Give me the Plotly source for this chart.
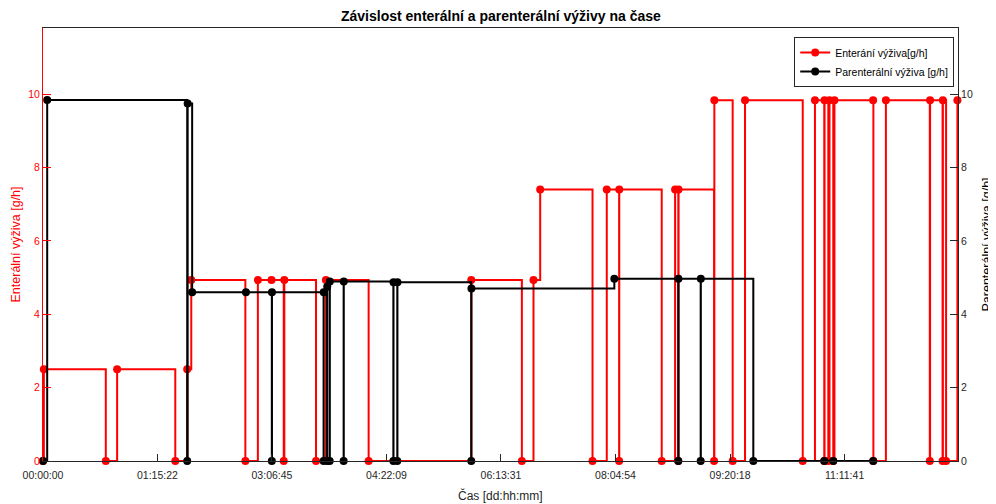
import plotly.graph_objects as go

# ---- data (time in hours from start, values in g/h) ----
ent_time = [0, 0.3, 21.6, 25.5, 45.5, 49.6, 51.0, 69.6, 73.9, 78.6, 82.8, 83.0,
            93.9, 97.3, 112.0, 147.3, 164.7, 168.7, 171.0, 189.0, 193.9, 198.15,
            198.2, 212.8, 217.4, 218.5, 218.6, 230.8, 230.9, 237.2, 241.45, 261.3,
            265.5, 268.7, 268.8, 270.1, 270.5, 271.8, 272.2, 285.5, 285.6, 289.9,
            305.0, 305.1, 309.4, 309.5, 310.6, 314.5]
ent_value = [0, 2.5, 0, 2.5, 0, 2.5, 4.93, 0, 4.93, 4.93, 0, 4.93,
             0, 4.93, 0, 4.93, 0, 4.93, 7.4, 0, 7.4, 0,
             7.4, 0, 7.4, 0, 7.4, 0, 9.83, 0, 9.83, 0,
             9.83, 0, 9.83, 0, 9.83, 0, 9.83, 9.83, 0, 9.83,
             0, 9.83, 0, 9.83, 0, 9.83]

par_time = [0, 1.44, 49.6, 49.75, 51.3, 69.8, 78.7, 78.75, 96.5, 96.55, 97.7, 97.75,
            98.6, 98.65, 103.4, 103.45, 120.5, 120.55, 121.85, 121.9, 147.3, 147.35,
            196.5, 218.5, 218.55, 226.2, 226.25, 244.3, 268.7, 271.8, 285.5]
par_value = [0, 9.84, 0, 9.74, 4.6, 4.6, 0, 4.6, 0, 4.6, 0, 4.75,
             0, 4.89, 0, 4.89, 0, 4.87, 0, 4.87, 0, 4.7,
             4.97, 0, 4.97, 0, 4.97, 0, 0, 0, 0]

tick_vals = [0, 39.367, 78.75, 118.15, 157.517, 196.9, 236.3, 275.683]
tick_text = ["00:00:00", "01:15:22", "03:06:45", "04:22:09", "06:13:31",
             "08:04:54", "09:20:18", "11:11:41"]
y_ticks = [0, 2, 4, 6, 8, 10]

RED = "#ff0000"
BLK = "#000000"
AX = "#262626"
FONT = "Liberation Sans, Arial, Helvetica, sans-serif"

fig = go.Figure()
fig.add_trace(go.Scatter(
    x=ent_time, y=ent_value, name="Enterání výživa[g/h]",
    mode="lines+markers", line=dict(color=RED, width=2, shape="hv"),
    marker=dict(color=RED, size=8), cliponaxis=False, yaxis="y"))
fig.add_trace(go.Scatter(
    x=par_time, y=par_value, name="Parenterální výživa [g/h]",
    mode="lines+markers", line=dict(color=BLK, width=2, shape="hv"),
    marker=dict(color=BLK, size=8), cliponaxis=False, yaxis="y2"))

fig.update_layout(
    width=988, height=496,
    margin=dict(l=35, r=38, t=20, b=43),
    paper_bgcolor="white", plot_bgcolor="white",
    font=dict(family=FONT, size=11, color=AX),
    showlegend=True,
    legend=dict(x=0.821, y=0.979, xanchor="left", yanchor="top",
                bgcolor="white", bordercolor=AX, borderwidth=1,
                font=dict(size=10.5, color=BLK), tracegroupgap=0,
                itemwidth=30),
    xaxis=dict(range=[0, 314.7], tickvals=tick_vals, ticktext=tick_text,
               showgrid=False, zeroline=False, showline=True, linecolor=AX,
               linewidth=1, mirror=True, ticks="inside", ticklen=7,
               tickcolor=AX, tickfont=dict(size=10.5, color=AX),
               ticklabelstandoff=4),
    yaxis=dict(range=[0, 11.8], tickvals=y_ticks, showgrid=False, zeroline=False,
               showline=True, linecolor=RED, linewidth=1, ticks="inside",
               ticklen=8, tickcolor=RED, tickfont=dict(size=10.5, color=RED)),
    yaxis2=dict(range=[0, 11.8], tickvals=y_ticks, overlaying="y", side="right",
                showgrid=False, zeroline=False, showline=True, linecolor=AX,
                linewidth=1, ticks="inside", ticklen=8, tickcolor=AX,
                tickfont=dict(size=10.5, color=AX)),
    annotations=[
        dict(text="<b>Závislost enterální a parenterální výživy na čase</b>",
             xref="paper", yref="paper", x=0.5, y=1, yshift=2,
             xanchor="center", yanchor="bottom", showarrow=False,
             font=dict(size=14, color=BLK)),
        dict(text="Čas [dd:hh:mm]", xref="paper", yref="paper", x=0.5, y=0,
             yshift=-25, xanchor="center", yanchor="top", showarrow=False,
             font=dict(size=12, color=AX)),
        dict(text="Enterální výživa [g/h]", xref="paper", yref="paper",
             x=0, xshift=-28, y=0.5, xanchor="center", yanchor="middle",
             textangle=-90, showarrow=False, font=dict(size=12.5, color=RED)),
        dict(text="Parenterální výživa [g/h]", xref="paper", yref="paper",
             x=1, xshift=28, y=0.5, xanchor="center", yanchor="middle",
             textangle=-90, showarrow=False, font=dict(size=12.5, color=BLK)),
    ],
)

fig.write_html("out.html")
